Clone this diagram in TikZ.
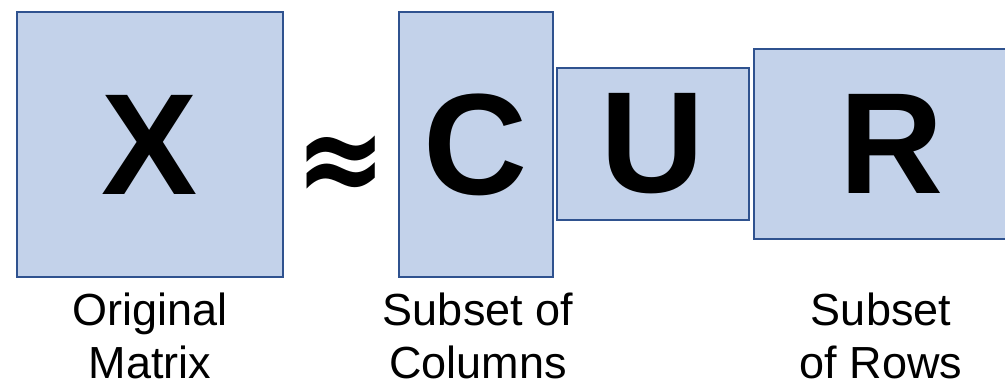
\documentclass[tikz,border=0pt]{standalone}
\usepackage{fontspec}
\setmainfont{Liberation Sans}
\newfontfamily\symfont{DejaVu Sans}
\usepackage{xcolor}
\usetikzlibrary{positioning}
\definecolor{boxfill}{HTML}{C3D2EA}
\definecolor{boxline}{HTML}{2F528F}

\begin{document}
\begin{tikzpicture}[
  mat/.style={draw=boxline, fill=boxfill, line width=1.1pt, inner sep=0pt,
    font=\fontsize{82}{82}\selectfont\bfseries},
  lbl/.style={align=center, inner sep=0pt, anchor=north,
    font=\fontsize{25.6}{29.8}\selectfont}
]
\useasboundingbox (0,0) rectangle (20.1,7.74);

% Matrices
\node[mat, minimum width=5.32cm, minimum height=5.3cm] (X) at (3,4.85) {X};
\node[mat, minimum width=3.08cm, minimum height=5.3cm] (C) at (9.52,4.85) {C};
\node[mat, minimum width=3.84cm, minimum height=3.04cm] (U) at (13.06,4.86) {U};
\node[mat, minimum width=5.52cm, minimum height=3.8cm] (R) at (17.84,4.86) {R};

% Approximately equal
\node[inner sep=0pt, yscale=1.2, font=\fontsize{62}{62}\selectfont\symfont\bfseries] (approx) at (6.82,4.34) {≈};

% Labels
\node[lbl] (origlbl) at (3,1.88) {Original\\Matrix};
\node[lbl] (collbl) at (9.56,1.88) {Subset of\\Columns};
\node[lbl] (rowlbl) at (17.62,1.88) {Subset\\of Rows};
\end{tikzpicture}
\end{document}
